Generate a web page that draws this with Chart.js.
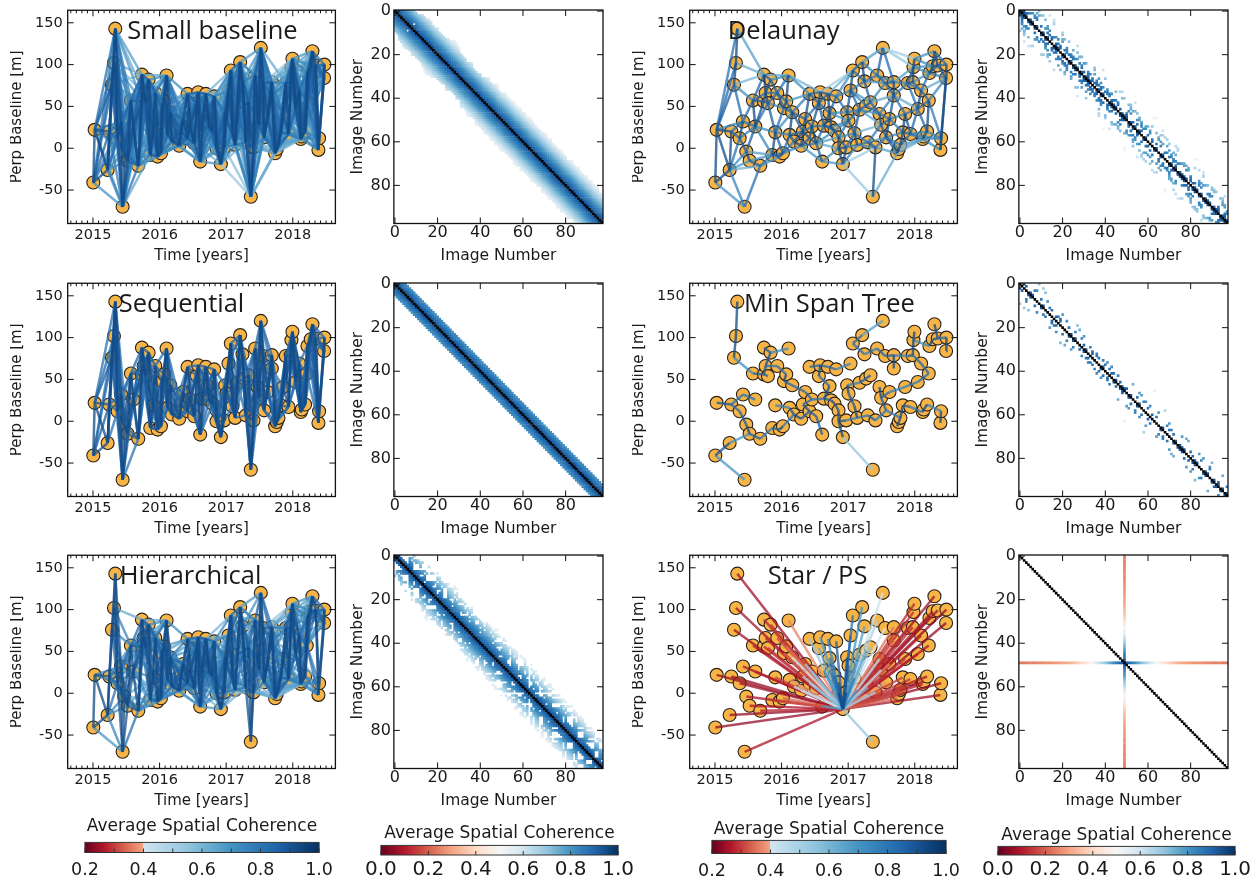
<!DOCTYPE html>
<html lang="en">
<head>
<meta charset="utf-8">
<title>Interferogram network configurations</title>
<script src="https://cdn.jsdelivr.net/npm/chart.js@4.4.1/dist/chart.umd.min.js"></script>
<style>
  html, body { margin: 0; padding: 0; background: #ffffff; }
  body { position: relative; width: 1258px; height: 882px; overflow: hidden; }
  canvas { position: absolute; }
</style>
</head>
<body>
<script>
/**
 * Redes de interferogramas: seis configuraciones, cada una con su
 * gráfico de líneas base y su matriz de coherencia.
 */

// Fechas de adquisición (años decimales), ordenadas en el tiempo
const acqYear = [
    2015.005, 2015.025, 2015.22, 2015.245, 2015.285, 2015.315, 2015.335, 2015.37, 2015.42, 2015.445,
    2015.47, 2015.52, 2015.57, 2015.605, 2015.68, 2015.735, 2015.735, 2015.76, 2015.795, 2015.835,
    2015.86, 2015.905, 2015.935, 2015.97, 2016.02, 2016.035, 2016.07, 2016.105, 2016.12, 2016.16,
    2016.185, 2016.295, 2016.32, 2016.355, 2016.42, 2016.42, 2016.455, 2016.52, 2016.56, 2016.58,
    2016.61, 2016.635, 2016.695, 2016.72, 2016.745, 2016.795, 2016.82, 2016.855, 2016.855, 2016.92,
    2016.97, 2016.985, 2017.005, 2017.035, 2017.07, 2017.095, 2017.135, 2017.17, 2017.21, 2017.245,
    2017.27, 2017.295, 2017.335, 2017.37, 2017.41, 2017.435, 2017.47, 2017.495, 2017.52, 2017.555,
    2017.57, 2017.62, 2017.685, 2017.685, 2017.735, 2017.76, 2017.785, 2017.82, 2017.855, 2017.895,
    2017.935, 2017.97, 2017.98, 2017.995, 2018.045, 2018.095, 2018.12, 2018.135, 2018.185, 2018.21,
    2018.22, 2018.27, 2018.295, 2018.345, 2018.385, 2018.395, 2018.47, 2018.475
];

// Línea base perpendicular de cada adquisición [m]
const perpBaseline = [
    -41, 22, -26, 20, 76, 102, 143, 12, 32, -70,
    -4, -15, 57, 26, -21, 56, 88, 66, 54, 82,
    -8, 19, 66, -10, -6, 48, 56, 87, 16, 43,
    8, 3, 20, 35, 12, 65, 26, 6, 54, 67,
    -16, 27, 65, 42, 25, 21, 62, 13, 0, -19,
    1, 43, 33, 69, 93, 18, 4, 46, 103, 80,
    51, 7, 55, -58, 1, 87, 41, 28, 120, 78,
    13, 35, 79, 63, -6, -1, 4, 19, 41, 78,
    17, 79, 97, 107, 47, 69, 11, 14, 20, 57,
    90, 98, 116, 99, -2, 12, 84, 100
];

// Coherencia media según la separación (en imágenes) del par
const lagCoherence = [
    1.00, 0.93, 0.90, 0.87, 0.84, 0.81, 0.78, 0.75, 0.72, 0.69,
    0.66, 0.63, 0.60, 0.57, 0.54, 0.51, 0.49, 0.46, 0.44, 0.42,
    0.40, 0.38, 0.37, 0.35, 0.34, 0.33, 0.32, 0.31, 0.30, 0.30,
    0.29, 0.29, 0.28, 0.28, 0.28, 0.27, 0.27, 0.27, 0.26, 0.26,
    0.26, 0.26, 0.25, 0.25, 0.25, 0.25, 0.24, 0.24, 0.24, 0.24
];

// Etiquetas de los ejes
const yearTicks = [2015, 2016, 2017, 2018];
const baselineTicks = [-50, 0, 50, 100, 150];
const imageTicks = [0, 20, 40, 60, 80];
const lineCbarTicks = [0.2, 0.4, 0.6, 0.8, 1.0];
const lineCbarMarks = [0.2, 0.3, 0.4, 0.5, 0.6, 0.7, 0.8, 0.9, 1.0];
const matrixCbarTicks = [0.0, 0.2, 0.4, 0.6, 0.8, 1.0];

// Parámetros de cada red
const sbasMaxYears = 0.45;
const sbasMaxPerp = 200;
const seqConnections = 5;
const hierMaxDays = [32, 48, 72, 108, 162];
const hierMaxPerp = [300, 70, 60, 50, 40];
const delaunayMaxYears = 0.5;
const starReference = 49;

// Límites de los ejes
const timeMin = 2014.62, timeMax = 2018.64;
const baseMin = -90, baseMax = 165;

// Paleta RdBu de matplotlib
const rdbuStops = ['#67001f', '#b2182b', '#d6604d', '#f4a582', '#fddbc7', '#f7f7f7',
                   '#d1e5f0', '#92c5de', '#4393c3', '#2166ac', '#053061'];
const rdbuRgb = rdbuStops.map(h => [1, 3, 5].map(k => parseInt(h.slice(k, k + 2), 16)));

Chart.defaults.font.family = 'DejaVu Sans';
Chart.defaults.color = '#1a1a1a';
Chart.defaults.animation = false;
Chart.defaults.events = [];
Chart.defaults.plugins.legend.display = false;
Chart.defaults.plugins.tooltip.enabled = false;

const nImages = acqYear.length;

/**
 * Color RdBu para un valor entre 0 y 1
 */
function rdbu(t, alpha = 1) {
    t = Math.min(1, Math.max(0, t));
    const s = t * (rdbuRgb.length - 1);
    const i = Math.min(Math.floor(s), rdbuRgb.length - 2);
    const f = s - i;
    const c = rdbuRgb[i].map((v, k) => Math.round(v + (rdbuRgb[i + 1][k] - v) * f));
    return `rgba(${c[0]}, ${c[1]}, ${c[2]}, ${alpha})`;
}

/**
 * Paleta de las líneas: rojos entre 0.2 y 0.4, azules entre 0.4 y 1.0
 */
function lineColor(c, alpha = 1) {
    if (c < 0.4) return rdbu((c - 0.2) / 0.2 * 0.3, alpha);
    return rdbu(0.6 + (c - 0.4) / 0.6 * 0.4, alpha);
}

function pairCoherence(i, j) {
    const lag = Math.abs(i - j);
    return lagCoherence[Math.min(lag, lagCoherence.length - 1)];
}

// Selección de pares
function selectPairs(test) {
    const pairs = [];
    for (let i = 0; i < nImages; i++) {
        for (let j = i + 1; j < nImages; j++) {
            if (test(i, j)) pairs.push([i, j]);
        }
    }
    return pairs;
}

// Coordenadas normalizadas (tiempo / línea base) para Delaunay y árbol mínimo
const pxPerYear = 66.7, pxPerMeter = 0.835;
const normX = i => (acqYear[i] - 2016.7) * pxPerYear;
const normY = i => perpBaseline[i] * pxPerMeter;

function circumTriangle(a, b, c, X, Y) {
    const ax = X[a], ay = Y[a], bx = X[b], by = Y[b], cx = X[c], cy = Y[c];
    const d = 2 * (ax * (by - cy) + bx * (cy - ay) + cx * (ay - by));
    const a2 = ax * ax + ay * ay, b2 = bx * bx + by * by, c2 = cx * cx + cy * cy;
    const ux = (a2 * (by - cy) + b2 * (cy - ay) + c2 * (ay - by)) / d;
    const uy = (a2 * (cx - bx) + b2 * (ax - cx) + c2 * (bx - ax)) / d;
    return {a, b, c, ux, uy, r2: (ax - ux) ** 2 + (ay - uy) ** 2};
}

/**
 * Triangulación de Delaunay (Bowyer-Watson)
 */
function delaunayNetwork() {
    const X = [], Y = [];
    for (let i = 0; i < nImages; i++) { X.push(normX(i)); Y.push(normY(i)); }
    const big = 5000;
    X.push(-big, 0, big); Y.push(-big, big, -big);
    let tris = [circumTriangle(nImages, nImages + 1, nImages + 2, X, Y)];
    for (let p = 0; p < nImages; p++) {
        const keep = [], edges = new Map();
        tris.forEach(t => {
            if ((X[p] - t.ux) ** 2 + (Y[p] - t.uy) ** 2 < t.r2) {
                [[t.a, t.b], [t.b, t.c], [t.c, t.a]].forEach(([u, v]) => {
                    const key = Math.min(u, v) + '-' + Math.max(u, v);
                    edges.set(key, edges.has(key) ? null : [u, v]);
                });
            } else {
                keep.push(t);
            }
        });
        tris = keep;
        edges.forEach(e => { if (e) tris.push(circumTriangle(e[0], e[1], p, X, Y)); });
    }
    const found = new Map();
    tris.forEach(t => {
        if (t.a >= nImages || t.b >= nImages || t.c >= nImages) return;
        [[t.a, t.b], [t.b, t.c], [t.c, t.a]].forEach(([u, v]) => {
            const i = Math.min(u, v), j = Math.max(u, v);
            found.set(i + '-' + j, [i, j]);
        });
    });
    return [...found.values()].filter(([i, j]) => acqYear[j] - acqYear[i] <= delaunayMaxYears);
}

/**
 * Árbol de expansión mínima (Prim)
 */
function minSpanNetwork() {
    const dist = (i, j) => Math.hypot(normX(i) - normX(j), normY(i) - normY(j));
    const inTree = new Array(nImages).fill(false);
    const best = new Array(nImages).fill(Infinity);
    const from = new Array(nImages).fill(-1);
    const pairs = [];
    best[0] = 0;
    for (let k = 0; k < nImages; k++) {
        let u = -1;
        for (let i = 0; i < nImages; i++) {
            if (!inTree[i] && (u < 0 || best[i] < best[u])) u = i;
        }
        inTree[u] = true;
        if (from[u] >= 0) pairs.push([Math.min(u, from[u]), Math.max(u, from[u])]);
        for (let v = 0; v < nImages; v++) {
            if (inTree[v]) continue;
            const d = dist(u, v);
            if (d < best[v]) { best[v] = d; from[v] = u; }
        }
    }
    return pairs;
}

const dYear = (i, j) => Math.abs(acqYear[j] - acqYear[i]);
const dPerp = (i, j) => Math.abs(perpBaseline[j] - perpBaseline[i]);

const sbasPairs = selectPairs((i, j) => dYear(i, j) <= sbasMaxYears && dPerp(i, j) <= sbasMaxPerp);
const seqPairs = selectPairs((i, j) => j - i <= seqConnections);
const hierPairs = selectPairs((i, j) =>
    hierMaxDays.some((days, k) => dYear(i, j) * 365.25 <= days && dPerp(i, j) <= hierMaxPerp[k]));
const delaunayPairs = delaunayNetwork();
const mstPairs = minSpanNetwork();
const starPairs = selectPairs((i, j) => i === starReference || j === starReference);

// Plugin: marco y marcas hacia dentro (estilo matplotlib)
const frameTicks = {
    id: 'frameTicks',
    afterDatasetsDraw(chart, args, opts) {
        const {ctx, chartArea: a, scales: {x, y}} = chart;
        const major = 6, minor = 3;
        ctx.save();
        ctx.strokeStyle = '#111';
        ctx.lineWidth = 1.3;
        ctx.strokeRect(a.left, a.top, a.right - a.left, a.bottom - a.top);
        ctx.lineWidth = 1;
        ctx.beginPath();
        const xMark = (v, len) => {
            const p = x.getPixelForValue(v);
            ctx.moveTo(p, a.bottom); ctx.lineTo(p, a.bottom - len);
            ctx.moveTo(p, a.top); ctx.lineTo(p, a.top + len);
        };
        x.ticks.forEach(t => xMark(t.value, major));
        (opts.minorX || []).forEach(v => xMark(v, minor));
        y.ticks.forEach(t => {
            const p = y.getPixelForValue(t.value);
            ctx.moveTo(a.left, p); ctx.lineTo(a.left + major, p);
            ctx.moveTo(a.right, p); ctx.lineTo(a.right - major, p);
        });
        ctx.stroke();
        ctx.restore();
    }
};

// Plugin: título dentro del panel
const panelTitle = {
    id: 'panelTitle',
    afterDatasetsDraw(chart, args, opts) {
        if (!opts.text) return;
        const {ctx, chartArea: a} = chart;
        ctx.save();
        ctx.font = '25.5px "Open Sans"';
        ctx.fillStyle = '#1a1a1a';
        ctx.textAlign = 'center';
        ctx.textBaseline = 'alphabetic';
        ctx.fillText(opts.text, a.left + opts.fx * (a.right - a.left), a.top + opts.fy * (a.bottom - a.top));
        ctx.restore();
    }
};

// Plugin: relleno de la barra de color
const colorbarFill = {
    id: 'colorbarFill',
    beforeDatasetsDraw(chart, args, opts) {
        const {ctx, chartArea: a, scales: {x}} = chart;
        ctx.save();
        ctx.beginPath();
        ctx.rect(a.left, a.top, a.right - a.left, a.bottom - a.top);
        ctx.clip();
        for (let p = Math.floor(a.left); p < a.right; p++) {
            ctx.fillStyle = opts.colormap(x.getValueForPixel(p + 0.5));
            ctx.fillRect(p, a.top, 1.4, a.bottom - a.top);
        }
        ctx.restore();
        ctx.save();
        ctx.strokeStyle = '#333';
        ctx.lineWidth = 1;
        ctx.strokeRect(a.left, a.top, a.right - a.left, a.bottom - a.top);
        ctx.beginPath();
        (opts.marks || []).forEach(v => {
            const p = x.getPixelForValue(v);
            ctx.moveTo(p, a.bottom); ctx.lineTo(p, a.bottom - 4);
        });
        ctx.stroke();
        ctx.restore();
    }
};

// Marcas menores mensuales del eje de tiempo
const monthTicks = [];
for (let m = 0; m < 60; m++) {
    const v = 2014 + m / 12;
    if (v > timeMin && v < timeMax && !yearTicks.includes(v)) monthTicks.push(v);
}

function linearAxis(min, max, ticks, title, opts = {}) {
    return {
        type: 'linear',
        min: min,
        max: max,
        reverse: !!opts.reverse,
        afterBuildTicks: axis => { axis.ticks = ticks.map(v => ({value: v})); },
        ticks: {
            autoSkip: false,
            maxRotation: 0,
            padding: opts.tickPad,
            font: {size: opts.tickSize, lineHeight: 1},
            callback: v => String(v)
        },
        grid: {display: false, drawTicks: false},
        border: {display: false},
        title: {
            display: true,
            text: title,
            font: {size: opts.titleSize, lineHeight: 1},
            padding: opts.titlePad
        }
    };
}

function networkDatasets(pairs) {
    const groups = new Map();
    pairs.forEach(([i, j]) => {
        const c = pairCoherence(i, j);
        if (!groups.has(c)) groups.set(c, []);
        groups.get(c).push(
            {x: acqYear[i], y: perpBaseline[i]},
            {x: acqYear[j], y: perpBaseline[j]},
            {x: NaN, y: NaN}
        );
    });
    return [...groups].map(([c, data]) => ({
        data: data,
        showLine: true,
        spanGaps: false,
        pointRadius: 0,
        borderWidth: 2.5,
        borderColor: lineColor(c, 0.75),
        order: 1 - c
    }));
}

function baselineConfig(pairs, title, fx) {
    const datasets = networkDatasets(pairs);
    datasets.push({
        data: acqYear.map((t, i) => ({x: t, y: perpBaseline[i]})),
        showLine: false,
        pointRadius: 6.5,
        backgroundColor: '#f7b547',
        borderColor: '#2a2118',
        borderWidth: 1.1,
        order: 5
    });
    return {
        type: 'scatter',
        data: {datasets: datasets},
        options: {
            maintainAspectRatio: false,
            scales: {
                x: linearAxis(timeMin, timeMax, yearTicks, 'Time [years]',
                    {tickPad: 4, tickSize: 14.5, titleSize: 15, titlePad: {top: 3, bottom: 0}}),
                y: linearAxis(baseMin, baseMax, baselineTicks, 'Perp Baseline [m]',
                    {tickPad: 5, tickSize: 14.5, titleSize: 15, titlePad: {top: 0, bottom: 5}})
            },
            plugins: {
                frameTicks: {minorX: monthTicks},
                panelTitle: {text: title, fx: fx, fy: 0.133}
            }
        },
        plugins: [frameTicks, panelTitle]
    };
}

function matrixConfig(pairs) {
    const data = [], colors = [];
    pairs.forEach(([i, j]) => {
        const col = rdbu(pairCoherence(i, j));
        data.push({x: i, y: j}, {x: j, y: i});
        colors.push(col, col);
    });
    for (let i = 0; i < nImages; i++) {
        data.push({x: i, y: i});
        colors.push('#000000');
    }
    const cellRadius = ctx => {
        const s = ctx.chart.scales.x;
        return (Math.abs(s.getPixelForValue(1) - s.getPixelForValue(0)) + 0.5) / Math.SQRT2;
    };
    return {
        type: 'scatter',
        data: {datasets: [{
            data: data,
            pointStyle: 'rect',
            pointRadius: cellRadius,
            backgroundColor: colors,
            borderWidth: 0
        }]},
        options: {
            maintainAspectRatio: false,
            scales: {
                x: linearAxis(-0.5, nImages - 0.5, imageTicks, 'Image Number',
                    {tickPad: 1, tickSize: 16, titleSize: 15.5, titlePad: {top: 7, bottom: 0}}),
                y: linearAxis(-0.5, nImages - 0.5, imageTicks, 'Image Number',
                    {tickPad: 3, tickSize: 16, titleSize: 15.5, titlePad: {top: 0, bottom: 2}, reverse: true})
            },
            plugins: {frameTicks: {}}
        },
        plugins: [frameTicks]
    };
}

function colorbarConfig(min, max, ticks, marks, colormap, labelSize, labelPad, titlePad) {
    return {
        type: 'scatter',
        data: {datasets: []},
        options: {
            maintainAspectRatio: false,
            scales: {
                x: {
                    type: 'linear',
                    min: min,
                    max: max,
                    afterBuildTicks: axis => { axis.ticks = ticks.map(v => ({value: v})); },
                    ticks: {autoSkip: false, maxRotation: 0, padding: labelPad,
                            font: {size: labelSize, lineHeight: 1}, callback: v => v.toFixed(1)},
                    grid: {display: false, drawTicks: false},
                    border: {display: false}
                },
                y: {display: false, min: 0, max: 1}
            },
            plugins: {
                title: {display: true, text: 'Average Spatial Coherence',
                        font: {size: 17, weight: 'normal', lineHeight: 1.2}, color: '#1a1a1a',
                        padding: {top: 0, bottom: titlePad}},
                colorbarFill: {colormap: colormap, marks: marks}
            }
        },
        plugins: [colorbarFill]
    };
}

/**
 * Crea el gráfico y lo coloca para que su área de trazado caiga en `area`
 */
function placeChart(config, area) {
    const canvas = document.createElement('canvas');
    document.body.appendChild(canvas);
    canvas.width = area.width + 100;
    canvas.height = area.height + 80;
    config.options.responsive = false;
    const chart = new Chart(canvas, config);
    let a = chart.chartArea;
    chart.resize(Math.round(area.width + chart.width - (a.right - a.left)),
                 Math.round(area.height + chart.height - (a.bottom - a.top)));
    a = chart.chartArea;
    canvas.style.left = Math.round(area.left - a.left) + 'px';
    canvas.style.top = Math.round(area.top - a.top) + 'px';
    return chart;
}

// Distribución de los paneles
const colLeft = [68, 394, 690, 1019];
const colWidth = [268, 213, 268, 213];
const rowTop = [10, 283, 555];
const panelHeight = 213;

const panels = [
    {pairs: sbasPairs, title: 'Small baseline', fx: 0.541, row: 0, col: 0},
    {pairs: seqPairs, title: 'Sequential', fx: 0.425, row: 1, col: 0},
    {pairs: hierPairs, title: 'Hierarchical', fx: 0.459, row: 2, col: 0},
    {pairs: delaunayPairs, title: 'Delaunay', fx: 0.351, row: 0, col: 2},
    {pairs: mstPairs, title: 'Min Span Tree', fx: 0.522, row: 1, col: 2},
    {pairs: starPairs, title: 'Star / PS', fx: 0.478, row: 2, col: 2}
];

panels.forEach(p => {
    placeChart(baselineConfig(p.pairs, p.title, p.fx),
        {left: colLeft[p.col], top: rowTop[p.row], width: colWidth[p.col], height: panelHeight});
    placeChart(matrixConfig(p.pairs),
        {left: colLeft[p.col + 1], top: rowTop[p.row], width: colWidth[p.col + 1], height: panelHeight});
});

// Barras de color
placeChart(colorbarConfig(0.2, 1.0, lineCbarTicks, lineCbarMarks, v => lineColor(v), 17.5, 9, 6),
    {left: 85, top: 842, width: 234, height: 10});
placeChart(colorbarConfig(0.0, 1.0, matrixCbarTicks, matrixCbarTicks, v => rdbu(v), 20, 5, 2),
    {left: 381, top: 845, width: 237, height: 10});
placeChart(colorbarConfig(0.2, 1.0, lineCbarTicks, lineCbarMarks, v => lineColor(v), 17.5, 9, 1),
    {left: 712, top: 840, width: 234, height: 12});
placeChart(colorbarConfig(0.0, 1.0, matrixCbarTicks, matrixCbarTicks, v => rdbu(v), 20, 5, 1),
    {left: 998, top: 846, width: 237, height: 9});
</script>
</body>
</html>
